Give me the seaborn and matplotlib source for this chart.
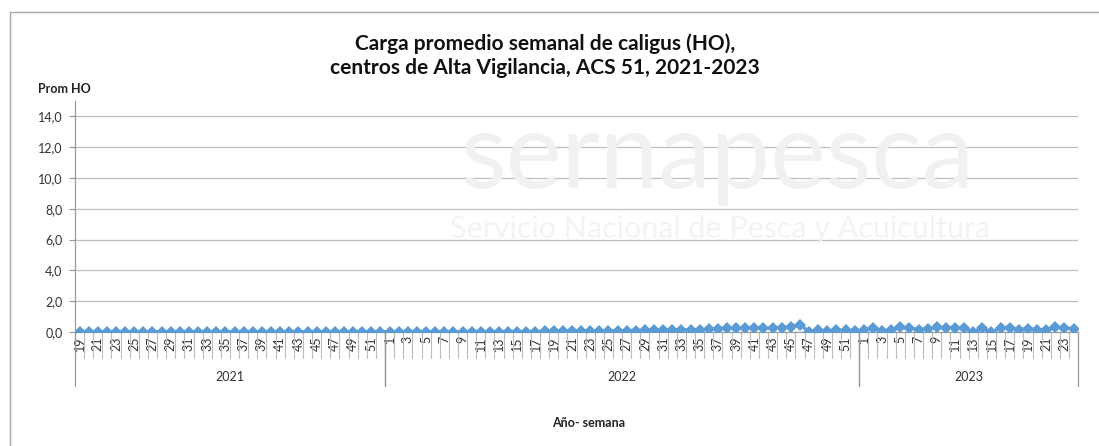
import numpy as np
import pandas as pd
import seaborn as sns
import matplotlib.pyplot as plt
from matplotlib.lines import Line2D

sns.set_style("white")
plt.rcParams['font.family'] = ['Lato', 'DejaVu Sans']

# weekly average HO load, per year
weeks_2021 = list(range(19, 53))
vals_2021 = [0.02] * len(weeks_2021)

weeks_2022 = list(range(1, 53))
vals_2022 = [0.02, 0.02, 0.02, 0.02, 0.02, 0.02, 0.02, 0.02, 0.02, 0.03,
             0.03, 0.03, 0.03, 0.03, 0.03, 0.03, 0.03, 0.04, 0.04, 0.04,
             0.05, 0.05, 0.06, 0.07, 0.08, 0.08, 0.09, 0.09, 0.1, 0.1,
             0.11, 0.12, 0.13, 0.14, 0.16, 0.18, 0.22, 0.25, 0.26, 0.24,
             0.26, 0.25, 0.27, 0.28, 0.35, 0.47, 0.03, 0.1, 0.05, 0.1,
             0.14, 0.09]

weeks_2023 = list(range(1, 25))
vals_2023 = [0.1, 0.27, 0.06, 0.15, 0.3, 0.27, 0.15, 0.22, 0.3, 0.27,
             0.27, 0.27, 0.0, 0.24, -0.02, 0.27, 0.27, 0.15, 0.22, 0.15,
             0.15, 0.3, 0.27, 0.2]

years = ["2021", "2022", "2023"]
week_lists = [weeks_2021, weeks_2022, weeks_2023]
val_lists = [vals_2021, vals_2022, vals_2023]

rows = []
for yr, wk, vl in zip(years, week_lists, val_lists):
    for w, v in zip(wk, vl):
        rows.append({"year": yr, "week": w, "ho": v})
df = pd.DataFrame(rows)
df["pos"] = np.arange(len(df))

fig = plt.figure(figsize=(10.99, 4.46), dpi=100)
ax = fig.add_axes([0.0682, 0.2556, 0.9128, 0.5179])

# faint watermark
fig.text(0.653, 0.578, "sernapesca", fontsize=76, color="#f1f1f1",
         ha="center", va="baseline", zorder=0)
fig.text(0.655, 0.487, "Servicio Nacional de Pesca y Acuicultura", fontsize=22,
         color="#f3f3f3", ha="center", va="center", zorder=0)
ax.set_facecolor("none")

sns.lineplot(data=df, x="pos", y="ho", ax=ax, color="#5B9BD5", linewidth=2.4,
             marker="D", markersize=6, markeredgewidth=0, zorder=3)

ax.set_xlim(-0.5, len(df) - 0.5)
ax.set_ylim(0, 15)
ax.set_yticks(np.arange(0, 16, 2))
ax.set_yticklabels([f"{v:.1f}".replace(".", ",") for v in np.arange(0, 16, 2)],
                   fontsize=9, color="#333333")
ax.yaxis.grid(True, color="#bfbfbf", linewidth=0.9)
ax.tick_params(axis="y", length=4, color="#999999", left=True, pad=5)

sub = df[df["week"] % 2 == 1]
ax.set_xticks(sub["pos"])
ax.set_xticklabels(sub["week"], rotation=90, fontsize=9, color="#333333")
ax.tick_params(axis="x", length=0, pad=3, bottom=False)

for s in ["top", "right"]:
    ax.spines[s].set_visible(False)
for s in ["left", "bottom"]:
    ax.spines[s].set_color("#999999")
    ax.spines[s].set_linewidth(0.9)

ax.set_xlabel("")
ax.set_ylabel("")

trans = ax.get_xaxis_transform()
# small category separators
for p in np.arange(len(df) + 1) - 0.5:
    ax.add_line(Line2D([p, p], [0, -0.113], transform=trans, color="#bbbbbb",
                       linewidth=0.8, clip_on=False))
# year group separators and labels
start = 0
for yr, wk in zip(years, week_lists):
    end = start + len(wk)
    for p in (start - 0.5, end - 0.5):
        ax.add_line(Line2D([p, p], [0, -0.234], transform=trans, color="#999999",
                           linewidth=0.9, clip_on=False))
    ax.text((start + end - 1) / 2, -0.195, yr, transform=trans, ha="center",
            va="center", fontsize=9, color="#333333")
    start = end

fig.text(0.536, 0.052, "Año- semana", ha="center", va="center", fontsize=9,
         fontweight="bold", color="#222222")
fig.text(0.035, 0.80, "Prom HO", ha="left", va="center", fontsize=9,
         fontweight="bold", color="#222222")
fig.text(0.496, 0.875, "Carga promedio semanal de caligus (HO),\ncentros de Alta Vigilancia, ACS 51, 2021-2023",
         ha="center", va="center", fontsize=15, fontweight="bold",
         color="#111111", linespacing=1.3)

# outer frame (top and left edges visible)
fig.add_artist(Line2D([0.009, 1.0], [0.973, 0.973], transform=fig.transFigure,
                      color="#a6a6a6", linewidth=1.0))
fig.add_artist(Line2D([0.009, 0.009], [0.0, 0.973], transform=fig.transFigure,
                      color="#a6a6a6", linewidth=1.0))

fig.savefig("out.png", dpi=100)
